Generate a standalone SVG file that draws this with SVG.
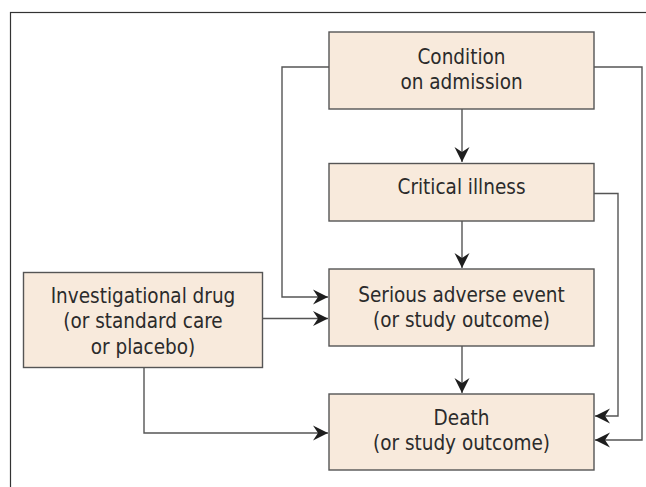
<svg xmlns="http://www.w3.org/2000/svg" width="646" height="487" viewBox="0 0 646 487">
<style>
.box{fill:#f8eadc;stroke:#555;stroke-width:1.4}
.t{font-family:"DejaVu Sans Condensed","DejaVu Sans",sans-serif;font-stretch:condensed;font-size:20.5px;fill:#2b2b2b;text-anchor:middle}
.c{fill:none;stroke:#555;stroke-width:1.4;marker-end:url(#ah)}
.frame{fill:none;stroke:#333;stroke-width:1.2}
</style>
<defs>
<marker id="ah" markerUnits="userSpaceOnUse" viewBox="-16 -8 17 16" refX="0" refY="0" markerWidth="17" markerHeight="16" orient="auto">
<path d="M0,0 L-15,-7.5 L-10,0 L-15,7.5 Z" fill="#1e1e1e"/>
</marker>
</defs>
<rect class="frame" x="10.5" y="12.5" width="700" height="600"/>
<g id="connectors">
<path class="c" d="M462,109 V162"/>
<path class="c" d="M462,221 V268"/>
<path class="c" d="M462,346 V393"/>
<path class="c" d="M329,67 H282 V297 H328"/>
<path class="c" d="M594,67 H642 V440 H595"/>
<path class="c" d="M594,193.5 H618 V416 H595"/>
<path class="c" d="M263,318.5 H328"/>
<path class="c" d="M144,368 V433 H328"/>
</g>
<g id="condition">
<rect class="box" x="329" y="32" width="265" height="77"/>
<text class="t" x="461.5" y="63.5">Condition</text>
<text class="t" x="461.5" y="89">on admission</text>
</g>
<g id="critical">
<rect class="box" x="329" y="163.5" width="265" height="57.5"/>
<text class="t" x="461.5" y="194">Critical illness</text>
</g>
<g id="serious">
<rect class="box" x="329" y="269" width="265" height="77"/>
<text class="t" x="461.5" y="301.5">Serious adverse event</text>
<text class="t" x="461.5" y="326.5">(or study outcome)</text>
</g>
<g id="drug">
<rect class="box" x="23.5" y="272.5" width="239" height="95"/>
<text class="t" x="143" y="302.5">Investigational drug</text>
<text class="t" x="143" y="328">(or standard care</text>
<text class="t" x="143" y="353.5">or placebo)</text>
</g>
<g id="death">
<rect class="box" x="329" y="394" width="265" height="76"/>
<text class="t" x="461.5" y="425">Death</text>
<text class="t" x="461.5" y="449.5">(or study outcome)</text>
</g>
</svg>
